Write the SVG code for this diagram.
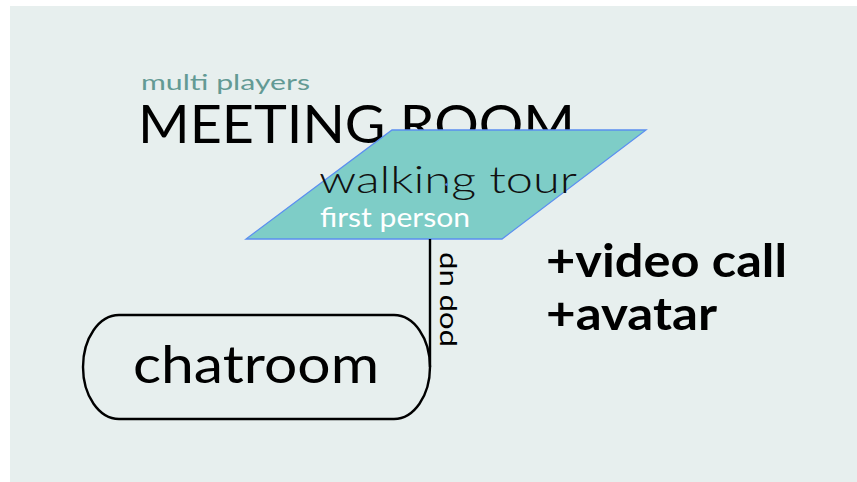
<svg xmlns="http://www.w3.org/2000/svg" width="857" height="482" viewBox="0 0 857 482">
  <style>
    .thin { font-family: "Lato", "Noto Sans", "Liberation Sans", sans-serif; font-weight: 400; }
    .light { font-family: "Lato", "Noto Sans", "Liberation Sans", sans-serif; font-weight: 300; }
    .bold { font-family: "Lato", "Noto Sans", "Liberation Sans", sans-serif; font-weight: 700; fill: #000; }
    .line { fill: none; stroke: #000; stroke-width: 2.4; }
  </style>
  <rect x="0" y="0" width="857" height="482" fill="#ffffff"/>
  <rect x="10" y="6" width="847" height="476" fill="#e7efee"/>

  <g id="title">
    <text class="thin" x="141" y="90" font-size="22" fill="#639a94" textLength="169" lengthAdjust="spacingAndGlyphs">multi players</text>
    <text class="thin" x="138" y="143" font-size="52" fill="#000" textLength="437" lengthAdjust="spacingAndGlyphs">MEETING ROOM</text>
  </g>

  <g id="walking-tour">
    <polygon points="392,130 646,130 502,239 246,239" fill="#7ecdc7" stroke="#5b8ff0" stroke-width="1.3"/>
    <text class="light" x="319" y="193" font-size="38" fill="#111" textLength="258" lengthAdjust="spacingAndGlyphs">walking tour</text>
    <text class="thin" x="320" y="227" font-size="26" fill="#ffffff" textLength="150" lengthAdjust="spacingAndGlyphs">first person</text>
    <circle cx="446.5" cy="184.5" r="1.3" fill="#5b8ff0"/>
  </g>

  <g id="connectors">
    <line class="line" x1="430" y1="239" x2="430" y2="367"/>
    <text class="thin" transform="translate(453,347) rotate(-90)" font-size="25" fill="#000" textLength="95" lengthAdjust="spacingAndGlyphs">pop up</text>
  </g>

  <g id="chatroom">
    <rect class="line" x="83" y="315" width="347" height="104" rx="36" ry="52"/>
    <text class="thin" x="133" y="383" font-size="53" fill="#000" textLength="246" lengthAdjust="spacingAndGlyphs">chatroom</text>
  </g>

  <g id="extras">
    <text class="bold" x="546" y="277" font-size="46" textLength="241" lengthAdjust="spacingAndGlyphs">+video call</text>
    <text class="bold" x="546" y="330" font-size="46" textLength="171" lengthAdjust="spacingAndGlyphs">+avatar</text>
  </g>
</svg>
